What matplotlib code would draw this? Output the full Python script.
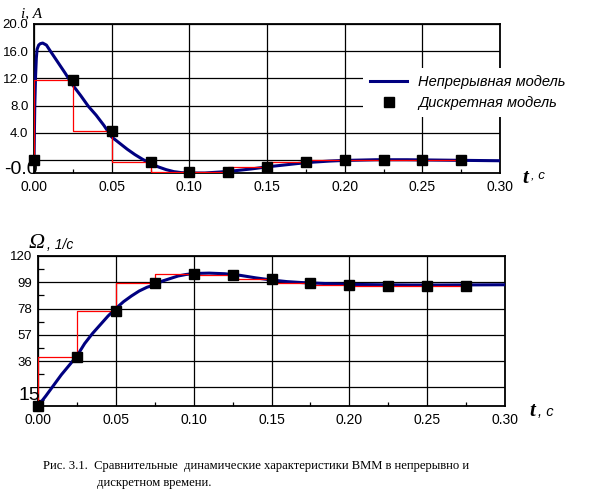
import matplotlib
matplotlib.use('Agg')
import matplotlib.pyplot as plt
from matplotlib.lines import Line2D
import numpy as np

# ток якоря: непрерывная модель
t_i = [0, 0.0005, 0.001, 0.0015, 0.002, 0.003, 0.004, 0.0056, 0.008, 0.01, 0.015, 0.02,
       0.025, 0.03, 0.035, 0.04, 0.045, 0.05, 0.055, 0.06, 0.065, 0.07, 0.075,
       0.08, 0.085, 0.09, 0.095, 0.1, 0.11, 0.12, 0.13, 0.14, 0.15, 0.16, 0.17,
       0.18, 0.19, 0.2, 0.22, 0.24, 0.26, 0.28, 0.3]
i_c = [0, 8.0, 12.3, 15.0, 16.3, 16.9, 17.1, 17.2, 16.9, 16.2, 14.5, 12.8,
       11.0, 9.5, 7.9, 6.6, 5.1, 3.4, 2.5, 1.6, 0.8, 0.1, -0.5,
       -1.0, -1.4, -1.7, -1.85, -1.9, -1.9, -1.75, -1.55, -1.3, -1.0, -0.75, -0.5,
       -0.3, -0.15, -0.05, 0.05, 0.05, 0.0, -0.05, -0.1]

# скорость: непрерывная модель
t_w = [0, 0.005, 0.01, 0.015, 0.02, 0.025, 0.03, 0.035, 0.04, 0.045, 0.05, 0.055,
       0.06, 0.065, 0.07, 0.075, 0.08, 0.085, 0.09, 0.095, 0.1, 0.11, 0.12, 0.13,
       0.14, 0.15, 0.16, 0.17, 0.18, 0.19, 0.2, 0.22, 0.24, 0.26, 0.28, 0.3]
w_c = [0, 8, 16.5, 25, 32.5, 40, 50, 58, 65, 72, 78, 83.5,
       88, 92, 95, 97, 100, 102, 104, 105.2, 106, 106.3, 105.8, 104.5,
       102.5, 100.8, 99.5, 98.7, 98.2, 97.7, 97.3, 97, 96.8, 96.8, 96.9, 97]

# дискретная модель, шаг 0.025 с
t_d = [0, 0.025, 0.05, 0.075, 0.1, 0.125, 0.15, 0.175, 0.2, 0.225, 0.25, 0.275]
i_d = [0, 11.7, 4.2, -0.3, -1.76, -1.76, -1.0, -0.34, -0.05, 0.0, 0.0, 0.0]
w_d = [0, 39.4, 76.3, 98.1, 105.6, 105.1, 101.9, 98.7, 96.8, 96.0, 96.0, 96.0]

W, H = 607, 504
fig = plt.figure(figsize=(W / 100, H / 100), dpi=100)

navy = '#000080'
sans = 'Liberation Sans'
serif = 'Liberation Serif'


def setup(ax, yt, ylab):
    ax.set_xlim(0, 0.3)
    ax.set_xticks(np.arange(0, 0.301, 0.05))
    ax.set_xticklabels(['%.2f' % v for v in np.arange(0, 0.301, 0.05)])
    ax.set_xticks(np.arange(0.025, 0.3, 0.05), minor=True)
    ax.set_yticks(yt)
    ax.set_yticklabels(ylab)
    ax.grid(True, which='major', color='black', lw=0.9)
    ax.tick_params(which='major', length=0, pad=5, labelsize=10)
    ax.tick_params(axis='y', which='major', pad=4, labelsize=9.5)
    ax.tick_params(which='minor', direction='in', length=3, width=0.9, color='black')
    for s in ax.spines.values():
        s.set_linewidth(1.3)
    for lab in ax.get_xticklabels() + ax.get_yticklabels():
        lab.set_family(sans)


# ---- верхний график: ток ----
ax1 = fig.add_axes([34 / W, 1 - 173 / H, 466 / W, 149 / H])
ax1.plot(t_i, i_c, color=navy, lw=2.2, zorder=3)
ax1.plot(t_d, i_d, color='red', lw=0.9, drawstyle='steps-pre', zorder=4)
ax1.plot(t_d, i_d, 's', color='black', ms=7, zorder=5, clip_on=False)
ax1.set_ylim(-1.9, 20)
setup(ax1, [0, 4, 8, 12, 16, 20], ['', '4.0', '8.0', '12.0', '16.0', '20.0'])
fig.text(4 / W, 1 - 170 / H, '-0.0', fontsize=14, family=sans, va='center')
fig.text(21 / W, 1 - 14 / H, 'i, A', fontsize=11, family=serif, style='italic', va='center')
fig.text(522 / W, 1 - 178 / H, 't', fontsize=15, family=serif, style='italic',
         weight='bold', va='center')
fig.text(531 / W, 1 - 176 / H, ', c', fontsize=9.5, family=sans, style='italic', va='center')

handles = [Line2D([], [], color=navy, lw=2.2),
           Line2D([], [], ls='none', marker='s', color='black', ms=7)]
leg = ax1.legend(handles, ['Непрерывная модель', 'Дискретная модель'],
                 loc='upper left', bbox_to_anchor=(363 / W, 1 - 68 / H),
                 bbox_transform=fig.transFigure, frameon=True, fancybox=False,
                 facecolor='white', edgecolor='none', framealpha=1,
                 handlelength=2.5, handletextpad=0.8, borderpad=0.5,
                 labelspacing=0.45, borderaxespad=0,
                 prop={'family': sans, 'style': 'italic', 'size': 10.5})
leg.set_zorder(10)

# ---- нижний график: скорость ----
ax2 = fig.add_axes([38 / W, 1 - 406 / H, 467 / W, 150 / H])
ax2.plot(t_w, w_c, color=navy, lw=2.2, zorder=3)
ax2.plot(t_d, w_d, color='red', lw=0.9, drawstyle='steps-pre', zorder=4)
ax2.plot(t_d, w_d, 's', color='black', ms=7, zorder=5, clip_on=False)
ax2.set_ylim(0, 120)
setup(ax2, [15, 36, 57, 78, 99, 120], ['', '36', '57', '78', '99', '120'])
ax2.set_yticks([4.5, 25.5, 46.5, 67.5, 88.5, 109.5], minor=True)
ax2.tick_params(axis='y', which='minor', length=4)
fig.text(18 / W, 1 - 395 / H, '15', fontsize=14, family=sans, va='center')
fig.text(29 / W, 1 - 243 / H, 'Ω', fontsize=16, family=serif, style='italic', va='center')
fig.text(47 / W, 1 - 245 / H, ', 1/c', fontsize=10, family=sans, style='italic', va='center')
fig.text(529 / W, 1 - 411 / H, 't', fontsize=15, family=serif, style='italic',
         weight='bold', va='center')
fig.text(538 / W, 1 - 412 / H, ', c', fontsize=10.5, family=sans, style='italic', va='center')

# ---- подпись ----
fig.text(43 / W, 1 - 466 / H,
         'Рис. 3.1.  Сравнительные  динамические характеристики ВММ в непрерывно и',
         fontsize=9.05, family=serif, va='center')
fig.text(97 / W, 1 - 483 / H, 'дискретном времени.', fontsize=9.05, family=serif, va='center')

fig.savefig('out.png', dpi=100)
